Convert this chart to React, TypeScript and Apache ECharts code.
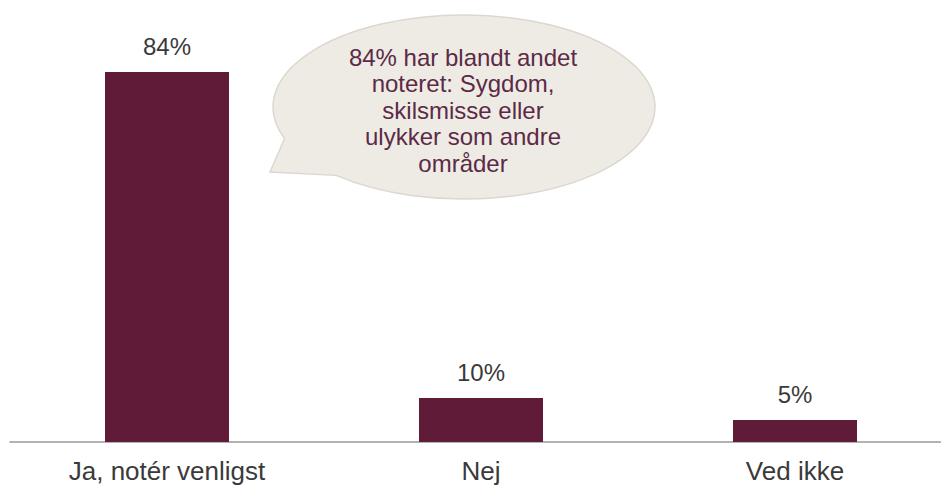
import React, { useEffect, useRef } from "react";
import * as echarts from "echarts";

const categories = ["Ja, notér venligst", "Nej", "Ved ikke"];
const values = [84, 10, 5];
const bubbleLines = [
  "84% har blandt andet",
  "noteret: Sygdom,",
  "skilsmisse eller",
  "ulykker som andre",
  "områder",
];

// speech bubble outline: ellipse with a tail pointing to the first bar
const cx = 464, cy = 107, rx = 191, ry = 92;
const a1 = (160 * Math.PI) / 180;
const a2 = (132 * Math.PI) / 180;
const p1 = [cx + rx * Math.cos(a1), cy + ry * Math.sin(a1)];
const p2 = [cx + rx * Math.cos(a2), cy + ry * Math.sin(a2)];
const bubblePath = `M ${p1[0]} ${p1[1]} A ${rx} ${ry} 0 1 1 ${p2[0]} ${p2[1]} L 270 172 Z`;

let registered = false;

export default function App() {
  const ref = useRef<HTMLDivElement>(null);
  useEffect(() => {
    if (!ref.current) return;
    if (!registered) {
      echarts.graphic.registerShape("bubble", echarts.graphic.extendPath(bubblePath, {}));
      registered = true;
    }
    const chart = echarts.init(ref.current, null, { renderer: "svg" });
    chart.setOption({
      animation: false,
      backgroundColor: "#ffffff",
      grid: { left: 10, right: 0, top: 1.5, bottom: 44, containLabel: false },
      xAxis: {
        type: "category",
        data: categories,
        axisLine: { show: true, lineStyle: { color: "#9a9a9a", width: 1.5 } },
        axisTick: { show: false },
        axisLabel: {
          color: "#3a3a3a",
          fontSize: 26,
          fontFamily: "Liberation Sans, Arial, sans-serif",
          margin: 16,
          interval: 0,
        },
      },
      yAxis: {
        type: "value",
        min: 0,
        max: 100,
        show: false,
        splitLine: { show: false },
      },
      series: [
        {
          type: "bar",
          data: values,
          barWidth: 124,
          itemStyle: { color: "#5f1b37" },
          label: {
            show: true,
            position: "top",
            distance: 13,
            formatter: "{c}%",
            color: "#3a3a3a",
            fontSize: 24,
            fontFamily: "Liberation Sans, Arial, sans-serif",
          },
        },
      ],
      graphic: [
        {
          type: "bubble",
          x: 0,
          y: 0,
          z: 10,
          style: { fill: "#eeebe5", stroke: "#dcd8d0", lineWidth: 1.5 },
        },
        {
          type: "text",
          x: 463,
          y: 110,
          z: 11,
          style: {
            text: bubbleLines.join("\n"),
            fill: "#5c2a45",
            fontSize: 24,
            lineHeight: 26.5,
            fontFamily: "Liberation Sans, Arial, sans-serif",
            textAlign: "center",
            textVerticalAlign: "middle",
          },
        },
      ],
    });
    return () => chart.dispose();
  }, []);
  return (
    <div style={{ position: "fixed", left: 0, top: 0, width: 941, height: 486, overflow: "hidden" }}>
      <div ref={ref} style={{ position: "absolute", left: 0, top: 0, width: 952, height: 486 }} />
    </div>
  );
}
